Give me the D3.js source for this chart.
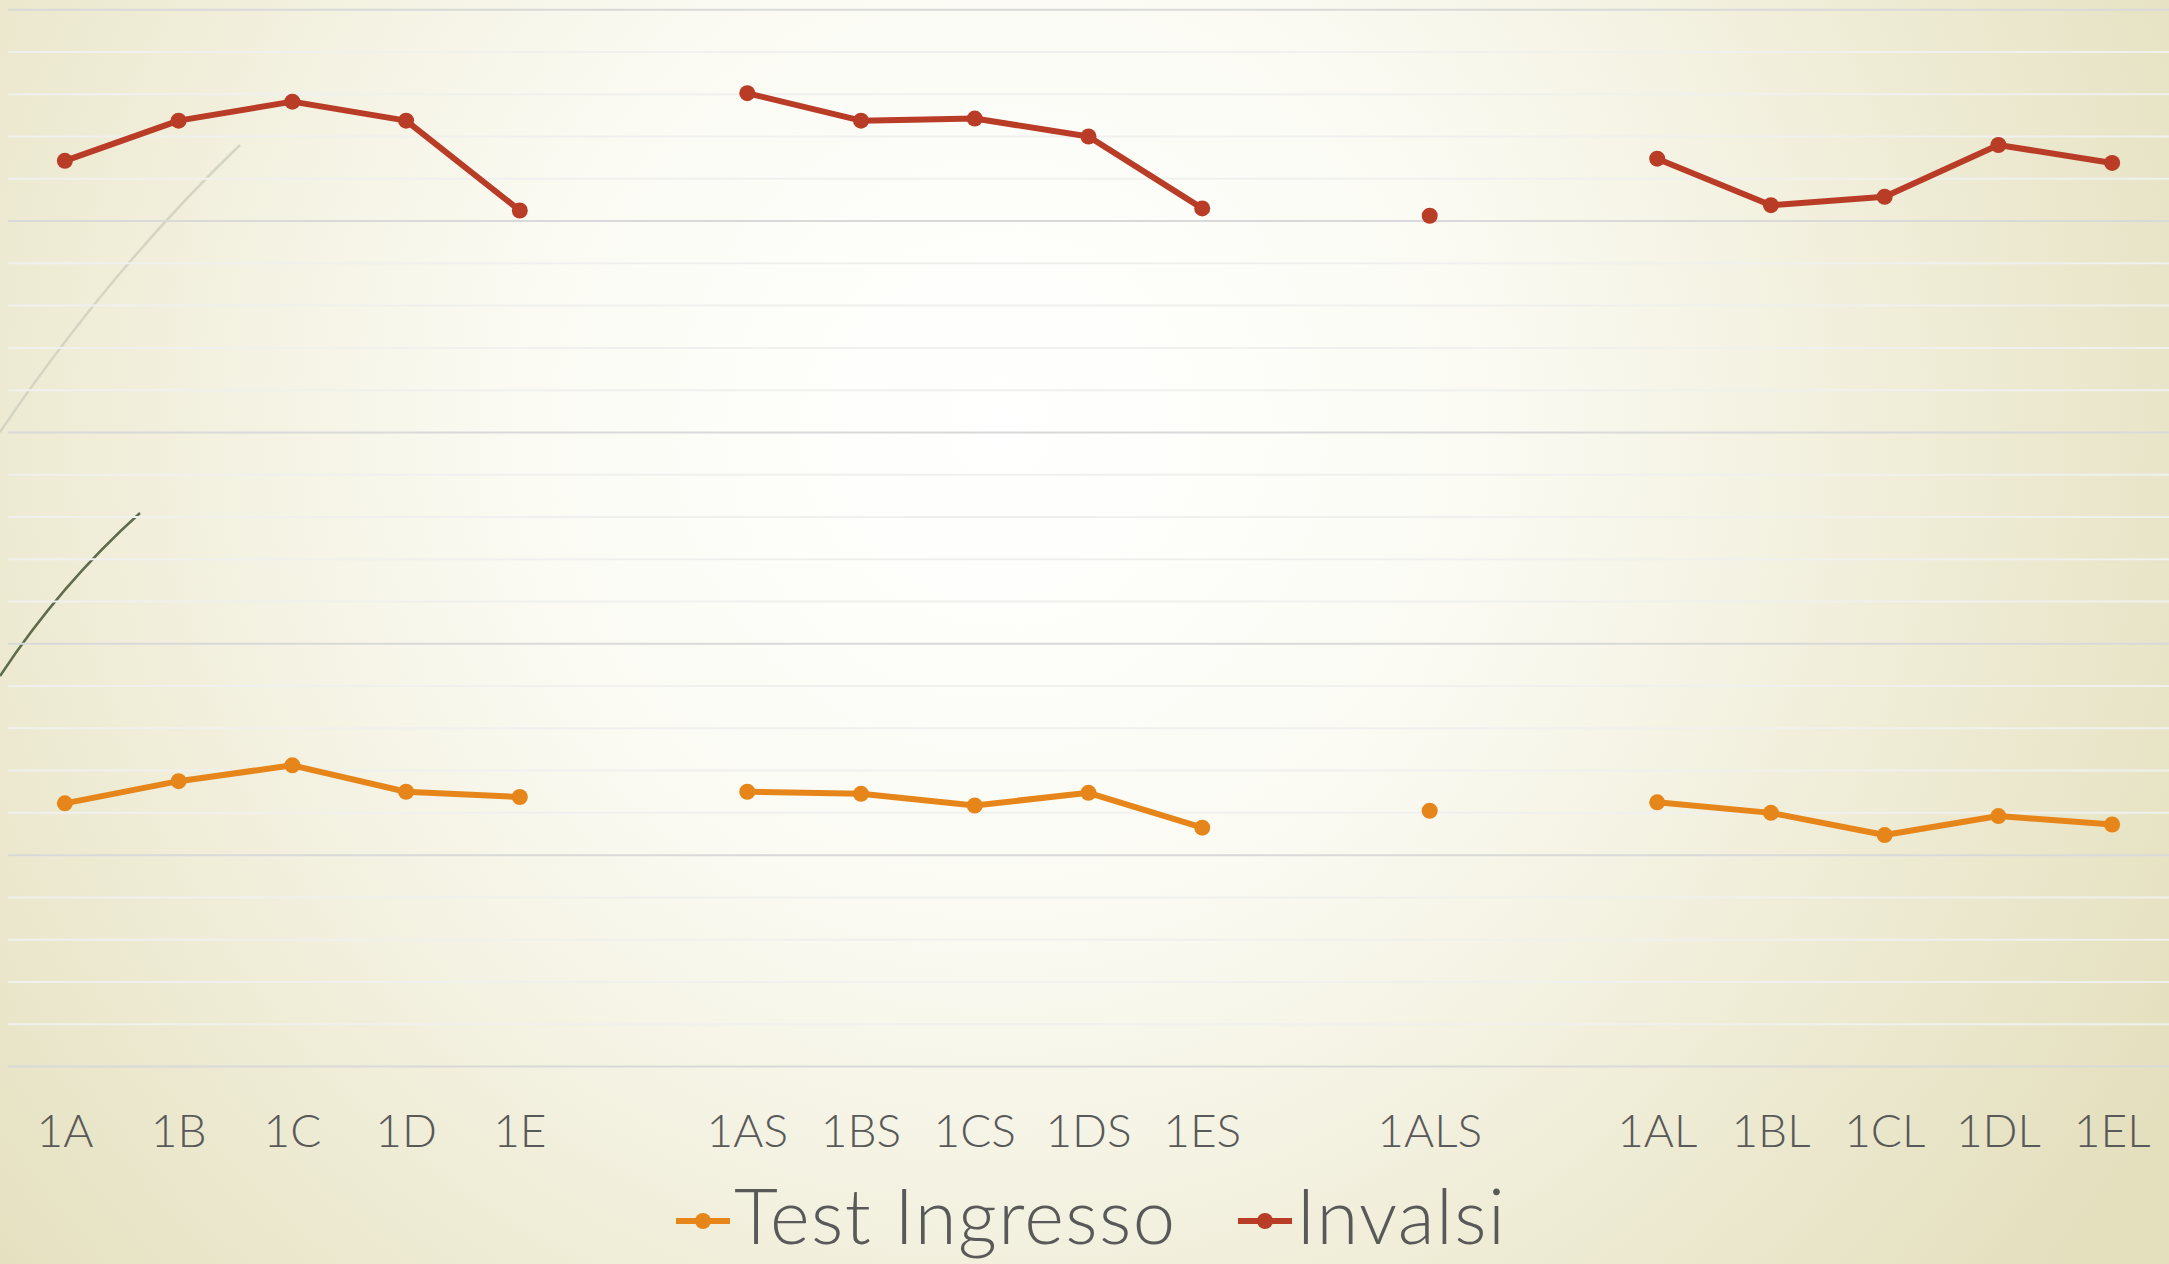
<!DOCTYPE html>
<html>
<head>
<meta charset="utf-8">
<script src="https://cdn.jsdelivr.net/npm/d3@7"></script>
<style>
  html, body { margin: 0; padding: 0; overflow: hidden; }
  svg { display: block; }
</style>
</head>
<body>
<svg id="chart" width="2169" height="1264"></svg>
<script>
// ---- data ----
const categories = ["1A","1B","1C","1D","1E","","1AS","1BS","1CS","1DS","1ES","","1ALS","","1AL","1BL","1CL","1DL","1EL"];
const testIngresso = [24.9,27.0,28.5,26.0,25.5,null,26.0,25.8,24.7,25.9,22.6,null,24.2,null,25.0,24.0,21.9,23.7,22.9];
const invalsi = [85.7,89.5,91.3,89.5,81.0,null,92.1,89.5,89.7,88.0,81.2,null,80.5,null,85.9,81.5,82.3,87.2,85.5];
const seriesNames = ["Test Ingresso","Invalsi"];
const yMajorTicks = [0,20,40,60,80,100];
const yMinorTicks = d3.range(0,101,4);

const W = 2169, H = 1264;
const svg = d3.select("#chart");
const defs = svg.append("defs");

// background gradient
const rg = defs.append("radialGradient").attr("id","bg")
  .attr("gradientUnits","userSpaceOnUse")
  .attr("cx",1000).attr("cy",430).attr("r",1350)
  .attr("fx",1000).attr("fy",430);
rg.append("stop").attr("offset","0").attr("stop-color","#ffffff");
rg.append("stop").attr("offset","0.35").attr("stop-color","#fbfbf4");
rg.append("stop").attr("offset","0.7").attr("stop-color","#efecd6");
rg.append("stop").attr("offset","1").attr("stop-color","#e4dfbd");
svg.append("rect").attr("width",W).attr("height",H).attr("fill","url(#bg)");

// decorative theme curves (background)
svg.append("path").attr("d","M0,432 Q110,270 240,145")
  .attr("fill","none").attr("stroke","#d5d5c3").attr("stroke-width",2.5);
svg.append("path").attr("d","M0,676 Q60,585 140,513")
  .attr("fill","none").attr("stroke","#5f6b4b").attr("stroke-width",2.5);

const plot = {left: 8, right: 2169, top: 9.7, bottom: 1066.5};

const x = d3.scaleBand().domain(d3.range(categories.length)).range([plot.left, plot.right]);
const cx = i => x(i) + x.bandwidth()/2;
const y = d3.scaleLinear().domain([0,100]).range([plot.bottom, plot.top]);

// minor gridlines
svg.append("g").selectAll("line").data(yMinorTicks.filter(v => v % 20 !== 0)).join("line")
  .attr("x1",plot.left).attr("x2",plot.right)
  .attr("y1",d=>y(d)).attr("y2",d=>y(d))
  .attr("stroke","#f0f0ee").attr("stroke-width",2);
// major gridlines
svg.append("g").selectAll("line").data(yMajorTicks).join("line")
  .attr("x1",plot.left).attr("x2",plot.right)
  .attr("y1",d=>y(d)).attr("y2",d=>y(d))
  .attr("stroke","#d9d9d9").attr("stroke-width",2);

// x axis labels
const xAxis = d3.axisBottom(x).tickSize(0).tickPadding(0).tickFormat(i => categories[i]);
const gx = svg.append("g").attr("transform",`translate(0,${plot.bottom})`).call(xAxis);
gx.select(".domain").remove();
gx.selectAll("text")
  .attr("dy",null).attr("y",80)
  .attr("font-family","Lato, 'Noto Sans', sans-serif")
  .attr("font-weight",300)
  .attr("font-size",46)
  .attr("fill","#595959");

const colors = {"Test Ingresso":"#e6861a", "Invalsi":"#b93c27"};
const data = {"Test Ingresso": testIngresso, "Invalsi": invalsi};

const line = d3.line().defined(d => d.v != null).x(d => cx(d.i)).y(d => y(d.v));

seriesNames.forEach(name => {
  const pts = data[name].map((v,i) => ({i, v}));
  svg.append("path").datum(pts)
    .attr("d", line)
    .attr("fill","none")
    .attr("stroke",colors[name])
    .attr("stroke-width",6)
    .attr("stroke-linejoin","round");
  svg.append("g").selectAll("circle").data(pts.filter(d => d.v != null)).join("circle")
    .attr("cx", d => cx(d.i)).attr("cy", d => y(d.v))
    .attr("r", 8).attr("fill", colors[name]);
});

// legend
const legendItems = [
  {name:"Test Ingresso", x0: 676},
  {name:"Invalsi", x0: 1238}
];
const lg = svg.append("g");
legendItems.forEach(it => {
  const g = lg.append("g").attr("transform",`translate(${it.x0},1221)`);
  g.append("line").attr("x1",0).attr("x2",54).attr("y1",0).attr("y2",0)
    .attr("stroke",colors[it.name]).attr("stroke-width",6);
  g.append("circle").attr("cx",27).attr("cy",0).attr("r",8).attr("fill",colors[it.name]);
  g.append("text").attr("x",58).attr("y",23)
    .attr("font-family","Lato, 'Noto Sans', sans-serif")
    .attr("font-weight",300)
    .attr("font-size",76)
    .attr("letter-spacing",1.4)
    .attr("fill","#595959")
    .text(it.name);
});
</script>
</body>
</html>
